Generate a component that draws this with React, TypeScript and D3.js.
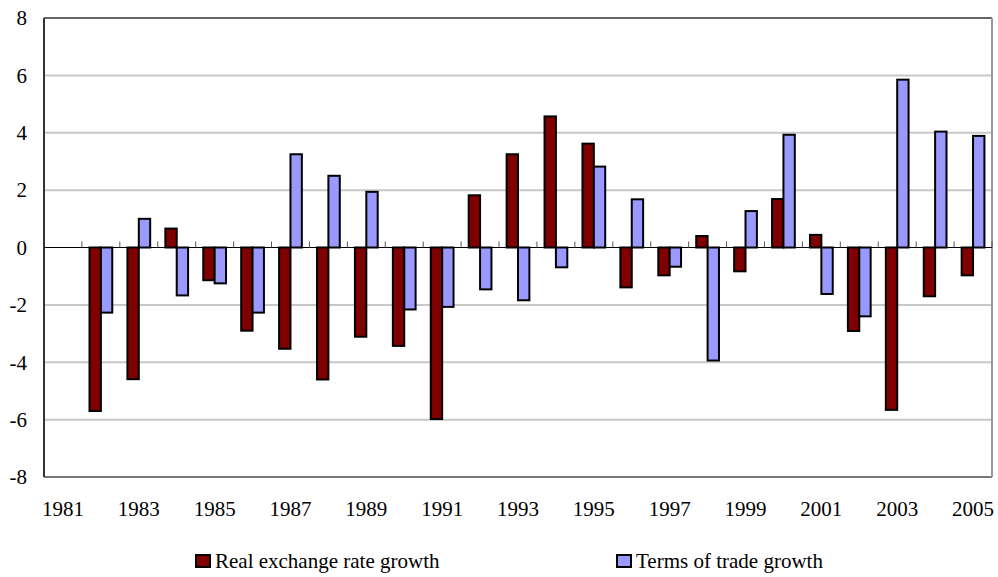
import React from "react";
import * as d3 from "d3";

const years: number[] = [1981,1982,1983,1984,1985,1986,1987,1988,1989,1990,1991,1992,1993,1994,1995,1996,1997,1998,1999,2000,2001,2002,2003,2004,2005];
const realExchangeRateGrowth: (number | null)[] = [null,-5.7,-4.59,0.66,-1.14,-2.9,-3.53,-4.6,-3.11,-3.43,-5.98,1.82,3.25,4.57,3.62,-1.39,-0.97,0.4,-0.83,1.69,0.44,-2.91,-5.66,-1.7,-0.97];
const termsOfTradeGrowth: (number | null)[] = [null,-2.27,1.0,-1.67,-1.25,-2.27,3.25,2.5,1.94,-2.16,-2.07,-1.46,-1.84,-0.69,2.82,1.68,-0.67,-3.94,1.27,3.93,-1.62,-2.4,5.85,4.04,3.89];
const yTicks: number[] = [-8,-6,-4,-2,0,2,4,6,8];
const xLabels: number[] = [1981,1983,1985,1987,1989,1991,1993,1995,1997,1999,2001,2003,2005];
const seriesNames: string[] = ["Real exchange rate growth", "Terms of trade growth"];
const seriesColors: string[] = ["#800000", "#9999FF"];

export default function App() {
  const W = 998, H = 577;
  const left = 44, right = 992, top = 18, bottom = 477;
  const x = d3.scaleBand<number>().domain(years).range([left, right]).padding(0);
  const bw = x.bandwidth();
  const xs = d3.scaleBand<number>().domain([0, 1]).range([bw * 0.2, bw * 0.8]).padding(0);
  const y = d3.scaleLinear().domain([-8, 8]).range([bottom, top]);
  const font = "Liberation Serif, Times New Roman, serif";
  const series = [realExchangeRateGrowth, termsOfTradeGrowth];
  const fs = 21;

  return (
    <svg width={W} height={H} style={{ position: "absolute", left: 0, top: 0, background: "#fff" }} fontFamily={font}>
      <rect x={0} y={0} width={W} height={H} fill="#fff" />
      {yTicks.filter(t => t !== 0 && t !== 8 && t !== -8).map(t => (
        <line key={"g" + t} x1={left} x2={right} y1={y(t)} y2={y(t)} stroke="#c8c8c8" strokeWidth={2} />
      ))}
      <line x1={left} x2={right} y1={y(8)} y2={y(8)} stroke="#666" strokeWidth={2} />
      <line x1={left} x2={right} y1={y(-8)} y2={y(-8)} stroke="#777" strokeWidth={2} />
      <line x1={right} x2={right} y1={top} y2={bottom} stroke="#999" strokeWidth={2} />
      <line x1={left} x2={left} y1={top} y2={bottom} stroke="#333" strokeWidth={2} />
      {yTicks.map(t => (
        <text key={"yl" + t} x={27} y={y(t)} dy="0.35em" textAnchor="end" fontSize={fs} fill="#000">{t}</text>
      ))}
      {series.map((vals, si) =>
        vals.map((v, i) => {
          if (v === null) return null;
          const bx = (x(years[i]) as number) + (xs(si) as number);
          const y0 = y(0), y1 = y(v);
          return (
            <rect key={"b" + si + "-" + i} x={bx} y={Math.min(y0, y1)} width={xs.bandwidth()} height={Math.abs(y1 - y0)}
              fill={seriesColors[si]} stroke="#000" strokeWidth={2} />
          );
        })
      )}
      <line x1={left} x2={right} y1={y(0)} y2={y(0)} stroke="#000" strokeWidth={1} />
      {years.slice(1).map(yr => (
        <line key={"tk" + yr} x1={x(yr) as number} x2={x(yr) as number} y1={y(0) - 6} y2={y(0)} stroke="#555" strokeWidth={1} />
      ))}
      <line x1={right} x2={right} y1={y(0) - 6} y2={y(0)} stroke="#555" strokeWidth={1} />
      {xLabels.map(yr => (
        <text key={"xl" + yr} x={(x(yr) as number) + bw / 2} y={516} textAnchor="middle" fontSize={fs} fill="#000">{yr}</text>
      ))}
      {seriesNames.map((n, i) => {
        const lx = i === 0 ? 196 : 617;
        return (
          <g key={"lg" + i}>
            <rect x={lx} y={555} width={14} height={12} fill={seriesColors[i]} stroke="#000" strokeWidth={2} />
            <text x={lx + 19} y={568} fontSize={fs} fill="#000">{n}</text>
          </g>
        );
      })}
    </svg>
  );
}
